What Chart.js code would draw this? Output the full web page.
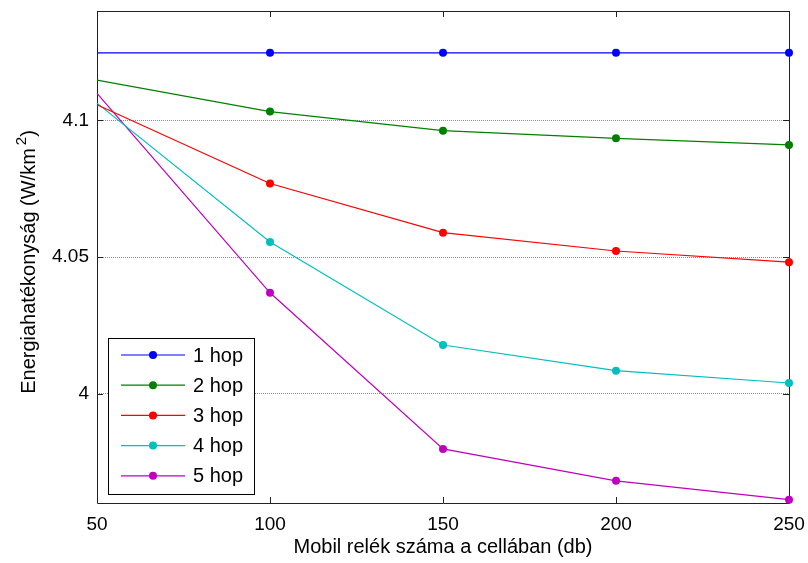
<!DOCTYPE html>
<html>
<head>
<meta charset="utf-8">
<script src="https://cdn.jsdelivr.net/npm/chart.js@4.4.1/dist/chart.umd.min.js"></script>
<style>
    html, body { margin: 0; padding: 0; background: #fff; }
    #wrap { width: 808px; height: 563px; }
</style>
</head>
<body>
<div id="wrap"><canvas id="chart-energy" width="808" height="563"></canvas></div>
<script>
// relay counts per cell and efficiency per hop count
const relayCounts = [50, 100, 150, 200, 250];
const hop1 = [4.1247, 4.1247, 4.1247, 4.1247, 4.1247];
const hop2 = [4.1147, 4.1032, 4.0962, 4.0934, 4.0910];
const hop3 = [4.1057, 4.0769, 4.0589, 4.0522, 4.0481];
const hop4 = [4.1063, 4.0555, 4.0178, 4.0084, 4.0039];
const hop5 = [4.1099, 4.0369, 3.9798, 3.9681, 3.9612];

const seriesNames = ['1 hop', '2 hop', '3 hop', '4 hop', '5 hop'];
const xTicks = [50, 100, 150, 200, 250];
const yTicks = [4, 4.05, 4.1];

const colors = ['#0000ff', '#008000', '#ff0000', '#00bfbf', '#bf00bf'];
const FONT = 'Arial, "Liberation Sans", sans-serif';

function makeDataset(label, values, color) {
    return {
        label: label,
        data: relayCounts.map((x, i) => ({ x: x, y: values[i] })),
        borderColor: color,
        backgroundColor: color,
        borderWidth: 1.2,
        pointRadius: relayCounts.map((x, i) => i === 0 ? 0 : 4),
        pointHoverRadius: 4,
        pointBorderWidth: 0,
        tension: 0,
        clip: false
    };
}

// axes box with inward tick marks on all four sides
const boxPlugin = {
    id: 'boxPlugin',
    beforeDatasetsDraw(chart) {
        const { ctx, chartArea: a, scales } = chart;
        const len = 6;
        ctx.save();
        ctx.strokeStyle = '#222';
        ctx.lineWidth = 1;
        ctx.beginPath();
        ctx.rect(a.left + 0.5, a.top + 0.5, a.right - a.left, a.bottom - a.top);
        scales.x.ticks.forEach(t => {
            const px = Math.round(scales.x.getPixelForValue(t.value)) + 0.5;
            ctx.moveTo(px, a.bottom); ctx.lineTo(px, a.bottom - len);
            ctx.moveTo(px, a.top); ctx.lineTo(px, a.top + len);
        });
        scales.y.ticks.forEach(t => {
            const py = Math.round(scales.y.getPixelForValue(t.value)) + 0.5;
            ctx.moveTo(a.left, py); ctx.lineTo(a.left + len, py);
            ctx.moveTo(a.right, py); ctx.lineTo(a.right - len, py);
        });
        ctx.stroke();
        ctx.restore();
    }
};

// vertical axis title with a raised exponent
const yTitle = {
    id: 'yTitle',
    afterDraw(chart) {
        const { ctx, chartArea: a } = chart;
        const main = 'Energiahatékonyság (W/km';
        const cy = (a.top + a.bottom) / 2 + 5;
        ctx.save();
        ctx.translate(29, cy);
        ctx.rotate(-Math.PI / 2);
        ctx.fillStyle = '#000';
        ctx.textBaseline = 'middle';
        ctx.font = '20px ' + FONT;
        const wMain = ctx.measureText(main).width;
        ctx.font = '15px ' + FONT;
        const wSup = ctx.measureText('2').width;
        ctx.font = '20px ' + FONT;
        const wClose = ctx.measureText(')').width;
        let x = -(wMain + 3 + wSup + wClose) / 2;
        ctx.fillText(main, x, 0);
        x += wMain + 3;
        ctx.font = '15px ' + FONT;
        ctx.fillText('2', x, -7);
        x += wSup;
        ctx.font = '20px ' + FONT;
        ctx.fillText(')', x, 0);
        ctx.restore();
    }
};

// boxed legend drawn inside the plot, lower left
const insetLegend = {
    id: 'insetLegend',
    afterDatasetsDraw(chart) {
        const { ctx, chartArea: a } = chart;
        const x0 = a.left + 11, y0 = 338, w = 146, rowH = 30.2;
        const h = 156;
        ctx.save();
        ctx.fillStyle = '#fff';
        ctx.strokeStyle = '#000';
        ctx.lineWidth = 1;
        ctx.fillRect(x0, y0, w, h);
        ctx.strokeRect(x0 + 0.5, y0 + 0.5, w, h);
        ctx.font = '20px ' + FONT;
        ctx.textBaseline = 'middle';
        chart.data.datasets.forEach((ds, i) => {
            const y = y0 + 17 + i * rowH;
            ctx.strokeStyle = ds.borderColor;
            ctx.lineWidth = 1.2;
            ctx.beginPath();
            ctx.moveTo(x0 + 13, y);
            ctx.lineTo(x0 + 77, y);
            ctx.stroke();
            ctx.fillStyle = ds.backgroundColor;
            ctx.beginPath();
            ctx.arc(x0 + 45, y, 4, 0, Math.PI * 2);
            ctx.fill();
            ctx.fillStyle = '#000';
            ctx.fillText(ds.label, x0 + 85, y + 1);
        });
        ctx.restore();
    }
};

const ctx = document.getElementById('chart-energy').getContext('2d');
new Chart(ctx, {
    type: 'line',
    data: {
        datasets: [
            makeDataset(seriesNames[0], hop1, colors[0]),
            makeDataset(seriesNames[1], hop2, colors[1]),
            makeDataset(seriesNames[2], hop3, colors[2]),
            makeDataset(seriesNames[3], hop4, colors[3]),
            makeDataset(seriesNames[4], hop5, colors[4])
        ]
    },
    options: {
        responsive: false,
        animation: false,
        events: [],
        layout: { padding: { left: 0, right: 19, top: 11, bottom: 0 } },
        plugins: {
            legend: { display: false },
            tooltip: { enabled: false }
        },
        scales: {
            x: {
                type: 'linear',
                min: 50,
                max: 250,
                afterBuildTicks: scale => { scale.ticks = xTicks.map(v => ({ value: v })); },
                afterFit: scale => {
                    scale.height = 60;
                    scale.paddingLeft = 0;
                    scale.paddingRight = 0;
                },
                grid: { display: false, drawTicks: false },
                border: { display: false },
                ticks: {
                    color: '#000',
                    padding: 10,
                    maxRotation: 0,
                    font: { family: FONT, size: 19 },
                    callback: v => String(v)
                },
                title: {
                    display: true,
                    text: 'Mobil relék száma a cellában (db)',
                    color: '#000',
                    font: { family: FONT, size: 20 },
                    padding: { top: 0, bottom: 4 }
                }
            },
            y: {
                type: 'linear',
                min: 3.96,
                max: 4.14,
                afterBuildTicks: scale => { scale.ticks = yTicks.map(v => ({ value: v })); },
                afterFit: scale => {
                    scale.width = 97;
                    scale.paddingTop = 0;
                    scale.paddingBottom = 0;
                },
                grid: {
                    color: '#8c8c8c',
                    lineWidth: 1,
                    drawTicks: false
                },
                border: { display: false, dash: [1, 1] },
                ticks: {
                    color: '#000',
                    padding: 8,
                    font: { family: FONT, size: 19 },
                    callback: v => String(v)
                },
                title: { display: false }
            }
        }
    },
    plugins: [boxPlugin, insetLegend, yTitle]
});
</script>
</body>
</html>
